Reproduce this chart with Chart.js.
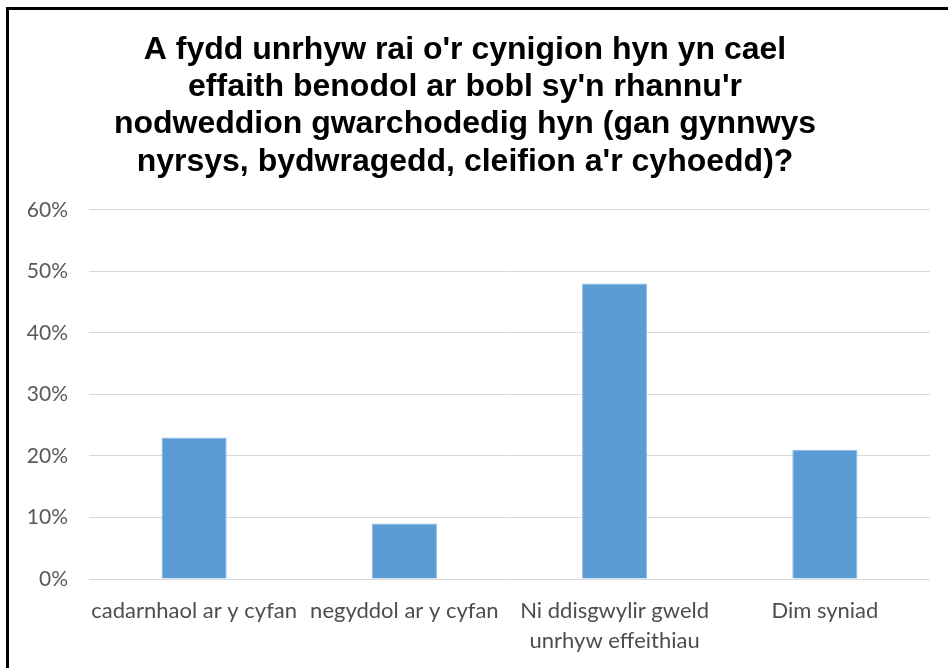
<!DOCTYPE html>
<html>
<head>
<meta charset="utf-8">
<script src="https://cdn.jsdelivr.net/npm/chart.js@4.4.1/dist/chart.umd.min.js"></script>
<style>
    body { margin: 0; background: #fff; }
    #wrap { position: relative; width: 948px; height: 668px; }
    #frame { position: absolute; left: 6px; top: 7px; right: 0; bottom: 0;
             border-left: 3px solid #000; border-top: 3px solid #000; pointer-events: none; }
</style>
</head>
<body>
<div id="wrap">
    <canvas id="myChart" width="948" height="668"></canvas>
    <div id="frame"></div>
</div>
<script>
// datos del grafico
const titleLines = [
    "A fydd unrhyw rai o'r cynigion hyn yn cael",
    "effaith benodol ar bobl sy'n rhannu'r",
    "nodweddion gwarchodedig hyn (gan gynnwys",
    "nyrsys, bydwragedd, cleifion a'r cyhoedd)?"
];
const categories = [
    "cadarnhaol ar y cyfan",
    "negyddol ar y cyfan",
    ["Ni ddisgwylir gweld", "unrhyw effeithiau"],
    "Dim syniad"
];
const values = [23, 9, 48, 21];   // porcentajes
const yTicks = [0, 10, 20, 30, 40, 50, 60];

const ctx = document.getElementById('myChart').getContext('2d');
const chart = new Chart(ctx, {
    type: 'bar',
    data: {
        labels: categories,
        datasets: [{
            data: values,
            backgroundColor: '#5b9bd5',
            borderColor: '#8dbbe6',
            borderWidth: 1,
            categoryPercentage: 1,
            barPercentage: 0.31
        }]
    },
    options: {
        responsive: false,
        animation: false,
        layout: { padding: { left: 0, right: 18, top: 0, bottom: 0 } },
        plugins: {
            legend: { display: false },
            tooltip: { enabled: false },
            title: {
                display: true,
                text: titleLines,
                color: '#000',
                font: { family: 'Liberation Sans', size: 32, weight: 'bold', lineHeight: 1.17 },
                padding: { top: 31, bottom: 29 }
            }
        },
        scales: {
            x: {
                afterFit: function (scale) { scale.height = 89; },
                grid: { display: false },
                border: { display: false },
                ticks: {
                    color: '#4d4d4d',
                    font: { family: 'Lato', size: 22, lineHeight: 1.36 },
                    maxRotation: 0,
                    autoSkip: false,
                    padding: 9
                }
            },
            y: {
                min: 0,
                max: 60,
                afterBuildTicks: function (scale) {
                    scale.ticks = yTicks.map(v => ({ value: v }));
                },
                afterFit: function (scale) { scale.width = 89; },
                grid: { color: '#d9d9d9', lineWidth: 1, drawTicks: false },
                border: { display: false },
                ticks: {
                    color: '#595959',
                    font: { family: 'Lato', size: 21 },
                    padding: 21,
                    callback: v => v + '%'
                }
            }
        }
    }
});
</script>
</body>
</html>
